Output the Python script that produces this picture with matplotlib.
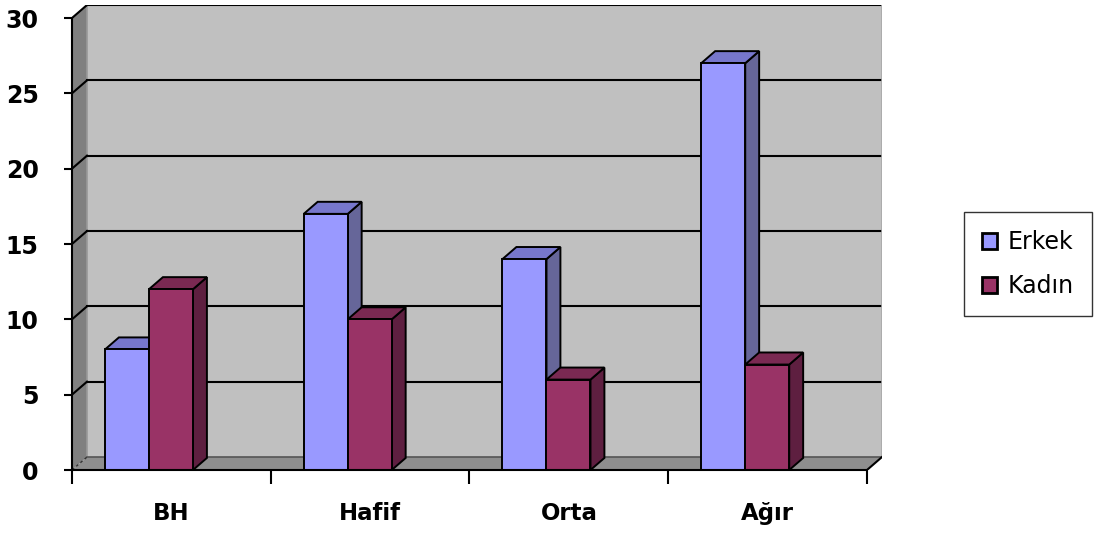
import matplotlib
matplotlib.use("Agg")
import matplotlib.pyplot as plt
from matplotlib.patches import Polygon, Patch

categories = ["BH", "Hafif", "Orta", "Ağır"]
series_names = ["Erkek", "Kadın"]
erkek = [8, 17, 14, 27]
kadin = [12, 10, 6, 7]
y_ticks = [0, 5, 10, 15, 20, 25, 30]

# colours: front, top, side faces
face_colors = {
    "Erkek": ("#9999ff", "#7777cc", "#666699"),
    "Kadın": ("#993366", "#7a2952", "#5e1f40"),
}

W, H, DPI = 1097, 534, 100
fig = plt.figure(figsize=(W / DPI, H / DPI), dpi=DPI, facecolor="white")

ymax = 30
ncat = len(categories)
# depth offset of the back wall (data units)
dx, dy = 0.0755, 0.863
# depth offset of the bars
bdx, bdy = 0.070, 0.80
bar_w = 0.2214
bar_off = 0.166

left_px, right_px, top_px, bottom_px = 72, 882, 5, 470
ax = fig.add_axes([left_px / W, 1 - bottom_px / H,
                   (right_px - left_px) / W, (bottom_px - top_px) / H])
ax.set_xlim(0, ncat + dx)
ax.set_ylim(0, ymax + dy)
ax.set_facecolor("none")

# walls and floor
ax.add_patch(Polygon([(dx, dy), (ncat + dx, dy), (ncat + dx, ymax + dy), (dx, ymax + dy)],
                     closed=True, facecolor="#c0c0c0", edgecolor="none", zorder=1))
ax.add_patch(Polygon([(0, 0), (dx, dy), (dx, ymax + dy), (0, ymax)],
                     closed=True, facecolor="#808080", edgecolor="none", zorder=1))
ax.add_patch(Polygon([(0, 0), (ncat, 0), (ncat + dx, dy), (dx, dy)],
                     closed=True, facecolor="#8e8e8e", edgecolor="none", zorder=1))
ax.plot([dx, dx], [dy, ymax + dy], color="#999999", lw=1.2, zorder=1.5)

# gridlines on back and side walls
for v in y_ticks:
    if v == 0:
        ax.plot([dx, ncat + dx], [dy, dy], color="#555555", lw=1.2, zorder=2)
        ax.plot([0, dx], [0, dy], color="#333333", lw=1.0, ls=(0, (2, 2)), zorder=2)
        continue
    ax.plot([dx, ncat + dx], [v + dy, v + dy], color="black", lw=1.5, zorder=2)
    ax.plot([0, dx], [v, v + dy], color="black", lw=1.5, zorder=2)
ax.plot([ncat + dx, ncat + dx], [dy, ymax + dy], color="#a8a8a8", lw=1.2, zorder=2)
ax.plot([ncat, ncat + dx], [0, dy], color="black", lw=1.5, zorder=6)


def draw_bar(x0, v, colors, z):
    front, top, side = colors
    x1 = x0 + bar_w
    ax.add_patch(Polygon([(x1, 0), (x1 + bdx, bdy), (x1 + bdx, v + bdy), (x1, v)],
                         closed=True, facecolor=side, edgecolor="black", lw=1.4, zorder=z))
    ax.add_patch(Polygon([(x0, v), (x1, v), (x1 + bdx, v + bdy), (x0 + bdx, v + bdy)],
                         closed=True, facecolor=top, edgecolor="black", lw=1.4, zorder=z))
    ax.add_patch(Polygon([(x0, 0), (x1, 0), (x1, v), (x0, v)],
                         closed=True, facecolor=front, edgecolor="black", lw=1.4, zorder=z))


z = 3
for i in range(ncat):
    for j, (name, vals) in enumerate(zip(series_names, [erkek, kadin])):
        draw_bar(i + bar_off + j * bar_w, vals[i], face_colors[name], z)
        z += 0.01

# axes
for s in ["top", "right"]:
    ax.spines[s].set_visible(False)
ax.spines["left"].set_bounds(0, ymax)
ax.spines["bottom"].set_bounds(0, ncat)
for s in ["left", "bottom"]:
    ax.spines[s].set_linewidth(1.5)
    ax.spines[s].set_zorder(6)

ax.set_yticks(y_ticks)
ax.set_yticklabels([str(v) for v in y_ticks], fontsize=17, fontweight="bold")
ax.tick_params(axis="y", length=6, width=1.5, pad=18)

ax.set_xticks(range(ncat + 1))
ax.set_xticklabels([])
ax.tick_params(axis="x", which="major", length=10, width=1.5)
ax.set_xticks([i + 0.5 for i in range(ncat)], minor=True)
ax.set_xticklabels(categories, minor=True, fontsize=16.5, fontweight="bold")
ax.tick_params(axis="x", which="minor", length=0, pad=23)

handles = [Patch(facecolor=face_colors[n][0], edgecolor="black", lw=2) for n in series_names]
leg = fig.legend(handles, series_names, loc="center left",
                 bbox_to_anchor=(964 / W, 1 - 264 / H), frameon=True, fancybox=False,
                 edgecolor="black", fontsize=17, handlelength=0.65, handleheight=0.65,
                 handletextpad=0.45, labelspacing=0.85, borderpad=0.75, borderaxespad=0)
leg.get_frame().set_linewidth(1.0)

fig.savefig("out.png", dpi=DPI, facecolor="white")
